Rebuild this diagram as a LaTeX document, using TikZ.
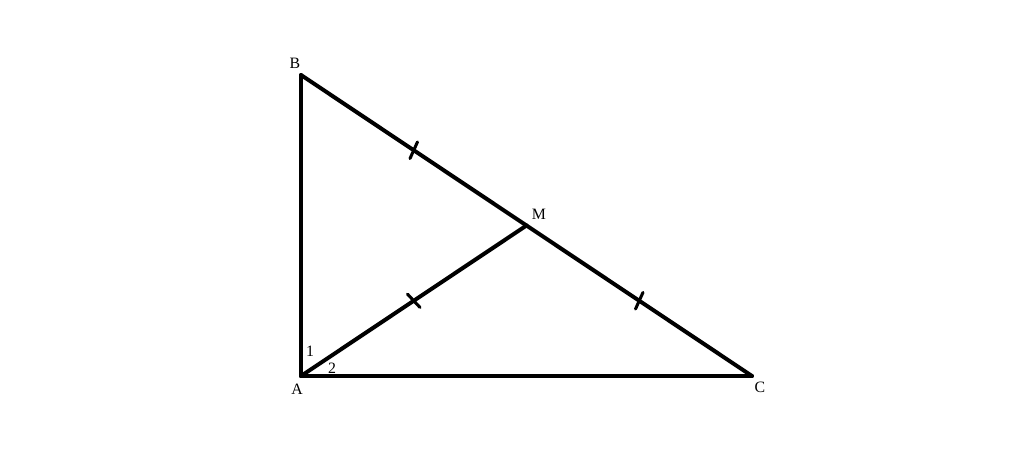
\documentclass[tikz,border=0pt]{standalone}
\usepackage{fontspec}
\setmainfont{Liberation Serif}
\usetikzlibrary{decorations.markings}
\usetikzlibrary{calc}

\tikzset{
    side/.style={line width=3.4pt, black, line cap=round, line join=miter},
    tick/.style={decoration={markings, mark=at position 0.5 with {\draw[line width=2.6pt] (-1.5,-9) -- (1.5,9);}}, postaction={decorate}},
    lbl/.style={font=\fontsize{13.5}{15}\selectfont, inner sep=0pt}
}

\begin{document}
\begin{tikzpicture}[x=0.03cm, y=-0.03cm]
        \useasboundingbox (0,0) rectangle (1024,470);
        \coordinate (A) at (301,376);
        \coordinate (B) at (301,75);
        \coordinate (C) at (752,376);
        \coordinate (M) at ($(B)!0.5!(C)$);

        \draw[side] (A) -- (B);
        \draw[side] (A) -- (C);
        \draw[side, tick] (B) -- (M);
        \draw[side, tick] (M) -- (C);
        \draw[side, tick] (A) -- (M);

        \node[lbl] (labB) at (295,63) {B};
        \node[lbl] (labA) at (297,389) {A};
        \node[lbl] (labC) at (760,387) {C};
        \node[lbl] (labM) at (539,214) {M};
        \node[lbl] (one) at (310,351) {1};
        \node[lbl] (two) at (332,368) {2};
    \end{tikzpicture}
\end{document}
